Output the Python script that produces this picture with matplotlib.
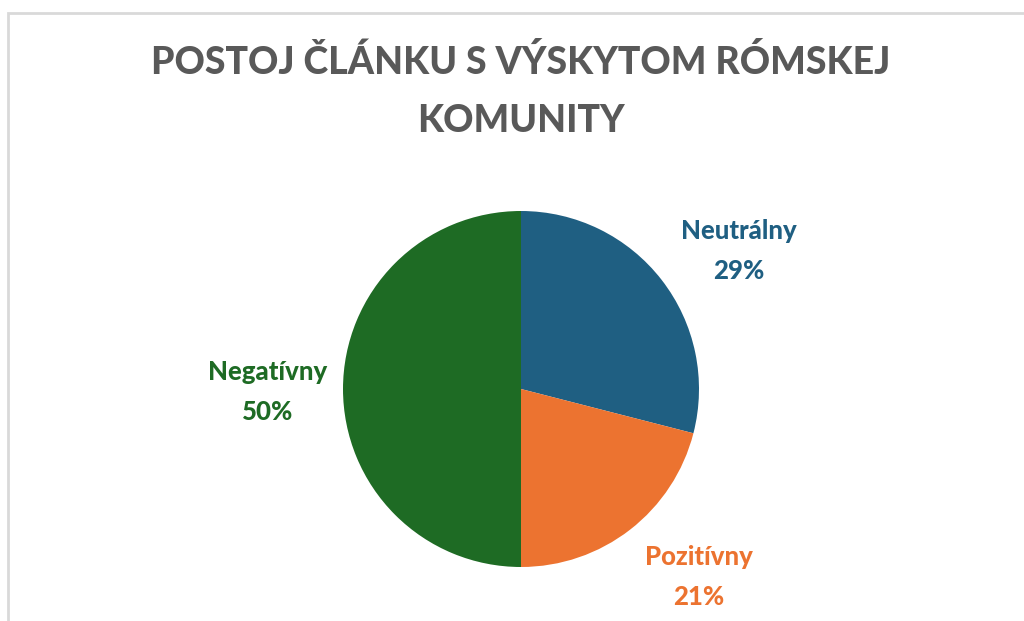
import matplotlib
matplotlib.use("Agg")
import matplotlib.pyplot as plt
from matplotlib.patches import Rectangle
from matplotlib.transforms import offset_copy

# Data
categories = ["Neutrálny", "Pozitívny", "Negatívny"]
values = [29, 21, 50]
colors = ["#1F5F82", "#EC7330", "#1E6B24"]
title = "POSTOJ ČLÁNKU S VÝSKYTOM RÓMSKEJ\nKOMUNITY"

# small nudges of the data labels (pixels, x right / y up)
label_nudge = [(14, -20), (20, 16), (5, -3)]

W, H = 1024, 621
fig = plt.figure(figsize=(W / 100, H / 100), dpi=100)
fig.patch.set_facecolor("white")

# light grey frame (cut off at right and bottom)
fig.add_artist(Rectangle((8 / W, -0.05), 1.2, (H - 13) / H + 0.05,
                         transform=fig.transFigure, fill=False,
                         edgecolor="#D9D9D9", linewidth=2))

# pie axes: centre (521, 389) px, radius 178 px
cx, cy, r = 521, 389, 178
ax = fig.add_axes([(cx - r) / W, (H - cy - r) / H, 2 * r / W, 2 * r / H])
labels = [f"{c}\n{v}%" for c, v in zip(categories, values)]
wedges, texts = ax.pie(values, colors=colors, startangle=90, counterclock=False,
                       labels=labels, labeldistance=1.45, radius=1,
                       wedgeprops=dict(linewidth=0))
for t, col, (dx, dy) in zip(texts, colors, label_nudge):
    t.set_color(col)
    t.set_ha("center")
    t.set_va("center")
    t.set_fontsize(18.5)
    t.set_fontweight("black")
    t.set_family("Lato")
    t.set_linespacing(1.8)
    t.set_transform(offset_copy(ax.transData, fig=fig, x=dx, y=dy, units="dots"))
ax.set_xlim(-1, 1)
ax.set_ylim(-1, 1)
ax.set_aspect("equal")
ax.axis("off")

fig.text(cx / W, 1 - 91 / H, title, ha="center", va="center",
         fontsize=27, fontweight="black", family="Lato", color="#595959",
         linespacing=1.85)

fig.savefig("out.png", dpi=100)
